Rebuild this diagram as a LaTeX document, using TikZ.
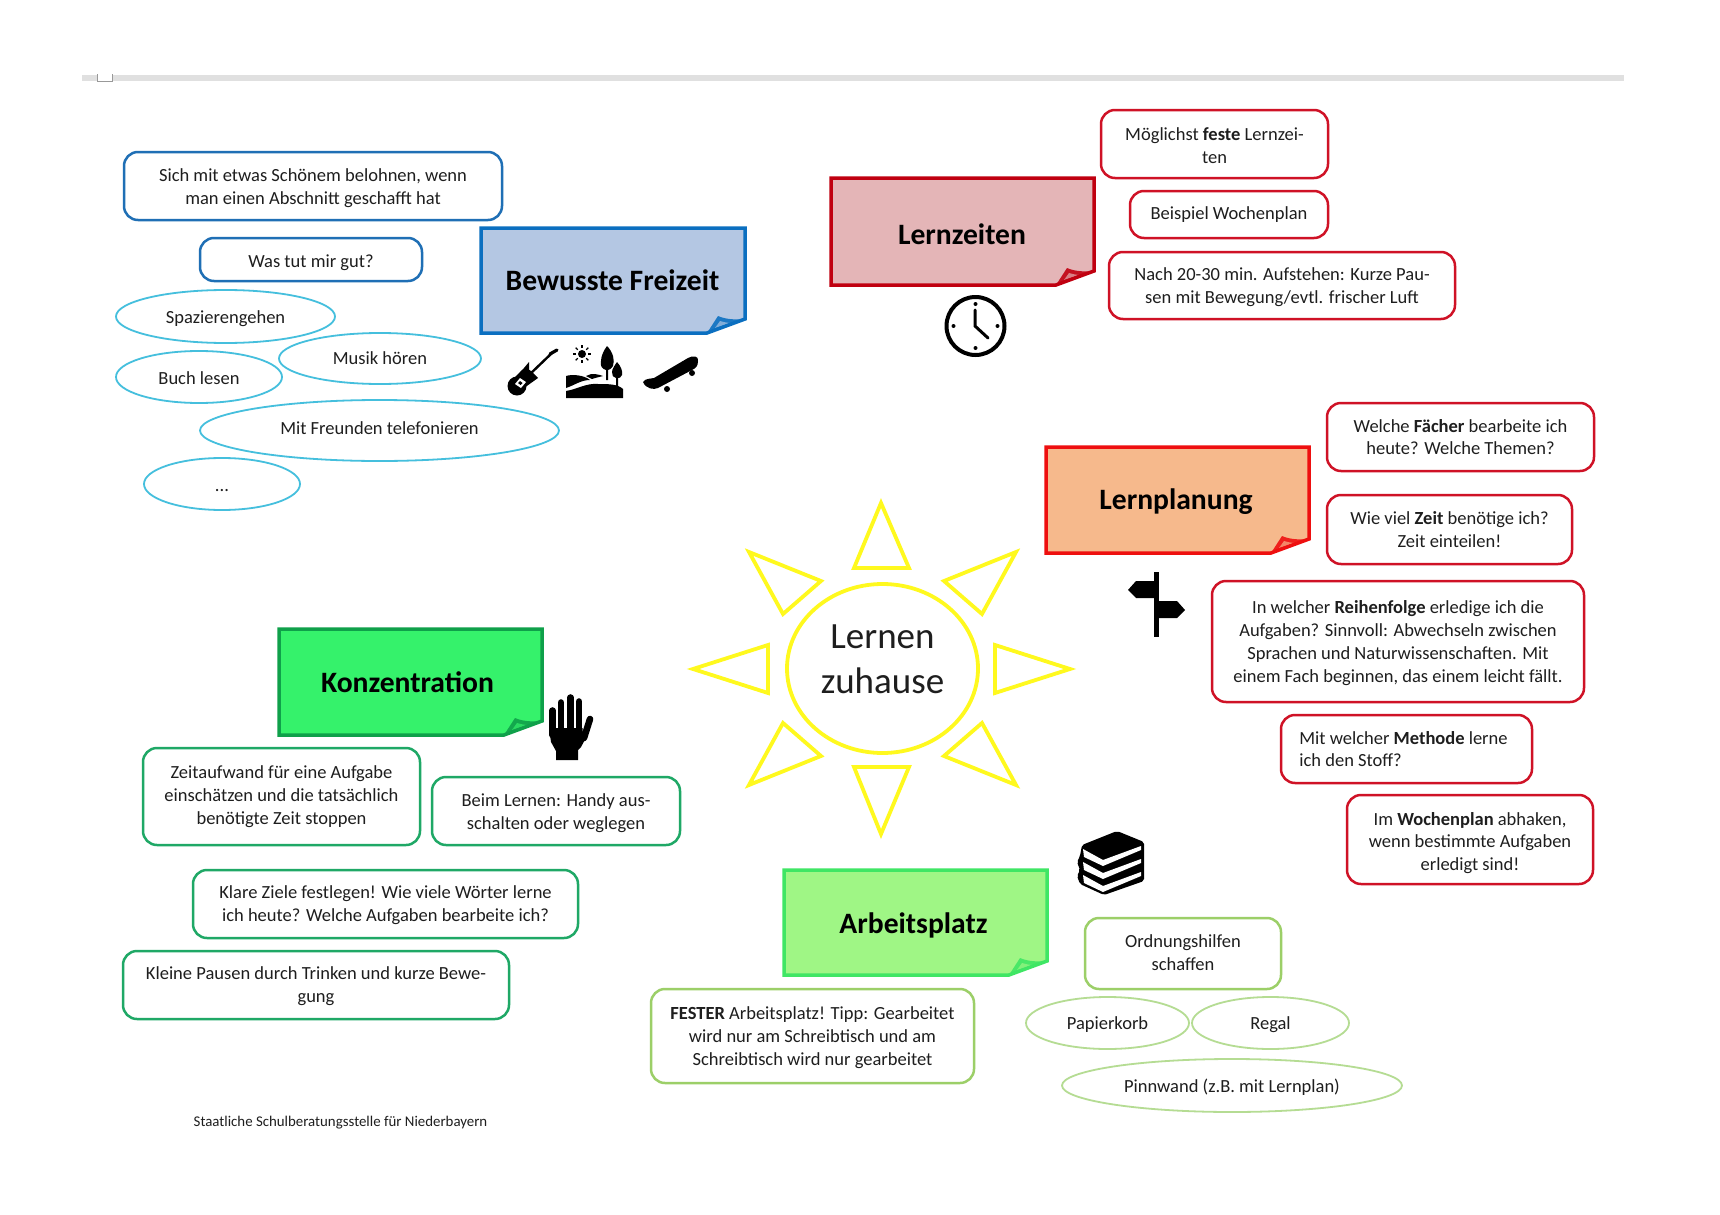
\documentclass[tikz,border=0pt]{standalone}
\usepackage{fontspec}
\setmainfont{Carlito}
\usetikzlibrary{calc,shapes.geometric}
\definecolor{txt}{HTML}{1E1E1E}
\definecolor{blueline}{HTML}{1F6FB5}
\definecolor{bluefill}{HTML}{B4C7E3}
\definecolor{bluenote}{HTML}{0B6FC0}
\definecolor{cyanline}{HTML}{45BFDD}
\definecolor{rednote}{HTML}{C00010}
\definecolor{redfill}{HTML}{E4B5B7}
\definecolor{redline}{HTML}{CF1226}
\definecolor{orfill}{HTML}{F6B98C}
\definecolor{ornote}{HTML}{EE0F0F}
\definecolor{kgfill}{HTML}{35F26B}
\definecolor{kgnote}{HTML}{0FA04A}
\definecolor{kgline}{HTML}{1FA866}
\definecolor{agfill}{HTML}{9FF685}
\definecolor{agnote}{HTML}{3FE664}
\definecolor{agline}{HTML}{9CCF68}
\definecolor{agell}{HTML}{B5DC93}
\definecolor{sunc}{HTML}{FFF91E}
\definecolor{barc}{HTML}{E0E0E0}
\tikzset{
  x=0.5pt,y=-0.5pt,
  every node/.style={text=txt,align=center,inner sep=0pt,outer sep=0pt,font=\fontsize{9.25}{11.4}\selectfont},
  card/.style={draw,rounded corners=7pt,line width=1.25pt,fill=white},
  oval/.style={draw,ellipse,line width=0.9pt,fill=white},
  notehead/.style={font=\fontsize{14.8}{17}\selectfont\bfseries,text=black},
  suntri/.style={draw=sunc,line width=1.9pt,line join=miter},
  icon/.style={fill=black,draw=none},
  finger/.style={draw=black,line width=3.3pt,line cap=round},
}
% name, x1,y1,x2,y2, style, text offset, text
\newcommand{\bx}[8]{\node[#6,minimum width={(#4-#2)*0.5pt},minimum height={(#5-#3)*0.5pt}] (#1) at ({(#2+#4)/2},{(#3+#5)/2}) {};
  \node (#1-text) at ({(#2+#4)/2},{(#3+#5)/2+#7}) {#8};}
% name, x1,y1,x2,y2, line, fill, text cx, text cy  (text in \notetext)
\newcommand{\note}[9]{%
  \fill[#7] (#2,#3) -- (#4,#3) -- (#4,#5-14) -- (#4-38,#5) -- (#2,#5) -- cycle;
  \fill[#6!90!#7] (#4-38,#5) -- (#4-27,#5-17) .. controls (#4-20,#5-14) and (#4-12,#5-13) .. (#4,#5-14) -- cycle;
  \fill[#7!70!#6] (#4-30,#5-5) -- (#4-25,#5-12) .. controls (#4-21,#5-11) and (#4-18,#5-10) .. (#4-15,#5-10) -- cycle;
  \draw[#6,line width=1.75pt,line join=miter] (#2,#3) -- (#4,#3) -- (#4,#5-14) -- (#4-38,#5) -- (#2,#5) -- cycle;
  \nodenext{#1}{#8}{#9}}
\newcommand{\nodenext}[3]{\node[notehead] (#1) at (#2,#3) {\notetext};}
\begin{document}
\begin{tikzpicture}
\useasboundingbox (0,0) rectangle (1720,1215);
\fill[white] (0,0) rectangle (1720,1215);
% top bar
\fill[barc] (82,74.5) rectangle (1624,81);
\fill[white] (97,75) rectangle (112,80.5);
\draw[gray!80,line width=0.4pt] (97,74) -- (97,81) -- (112,81) -- (112,74);

% Bewusste Freizeit
\def\notetext{Bewusste Freizeit}
\note{freizeit}{481}{228}{745}{333}{bluenote}{bluefill}{612.5}{280}
\bx{b1}{124}{152}{502}{220}{card,draw=blueline}{2.2}{Sich mit etwas Schönem belohnen, wenn\\man einen Abschnitt geschafft hat}
\bx{b2}{200}{238}{422}{281}{card,draw=blueline}{3.3}{Was tut mir gut?}
\bx{c1}{116}{290}{335}{343}{oval,draw=cyanline}{2.2}{Spazierengehen}
\bx{c3}{116}{351}{282}{403}{oval,draw=cyanline}{1}{Buch lesen}
\bx{c2}{279}{333}{481}{384}{oval,draw=cyanline}{0}{Musik hören}
\bx{c4}{200}{400}{559}{461}{oval,draw=cyanline}{-2.2}{Mit Freunden telefonieren}
\bx{c5}{144}{458}{300}{510}{oval,draw=cyanline}{6.6}{...}

% guitar
\fill[icon] (517,386) circle (9.5);
\fill[icon] (526,376) circle (7);
\fill[icon] (524,368) -- (529,362) -- (529,372) -- (533,373) -- (538,378) -- (531,383) -- (524,388) -- (514,378) -- cycle;
\draw[black,line width=1.2pt] (528,376) -- (553,352);
\draw[black,line width=1.6pt,line cap=round] (550,354) -- (557,350);
\fill[white] (520,378) -- (526,382) -- (521,388) -- (515,384) -- cycle;
\fill[black] (520,381) -- (522.5,383) -- (520.5,385) -- (518,383) -- cycle;
% landscape
\fill[icon] (566,376) .. controls (572,374) and (584,375) .. (590,380) .. controls (581,380) and (575,385) .. (566,388) -- cycle;
\fill[icon] (586,376) .. controls (592,372) and (600,375) .. (603,376) .. controls (599,377) and (595,378) .. (592,379) -- cycle;
\fill[icon] (566,391) .. controls (578,389) and (586,383) .. (598,384) .. controls (608,384) and (618,384) .. (623,389) -- (623,398) -- (566,398) -- cycle;
\fill[icon] (607,346) .. controls (613,352) and (615,360) .. (613,366) .. controls (611,369) and (609,370) .. (608,370) -- (608,380) -- (606,380) -- (606,370) .. controls (602,369) and (600,366) .. (601,361) .. controls (601,356) and (604,350) .. (607,346) -- cycle;
\fill[icon] (617,362) .. controls (621,366) and (623,372) .. (622,375) .. controls (621,378) and (619,378) .. (618,378) -- (618,386) -- (616,386) -- (616,378) .. controls (613,378) and (612,375) .. (612,372) .. controls (612,369) and (615,365) .. (617,362) -- cycle;
\fill[icon] (582,354) circle (4);
\foreach \a in {0,45,...,315}{\draw[black,line width=0.6pt] ($(582,354)+(\a:6)$) -- ($(582,354)+(\a:9)$);}
% skateboard
\fill[icon] (643,382) .. controls (646,378) and (650,379) .. (654,378) -- (688,358) .. controls (693,355) and (699,356) .. (698,361) .. controls (698,366) and (696,368) .. (692,370) -- (658,388) .. controls (654,390) and (646,389) .. (643,382) -- cycle;
\fill[icon] (667,389) circle (3);
\fill[icon] (692,373) circle (3);

% Lernzeiten
\def\notetext{Lernzeiten}
\note{lernzeiten}{831}{178}{1094}{285}{rednote}{redfill}{962}{234}
\bx{z1}{1101}{110}{1328}{178}{card,draw=redline}{1.5}{Möglichst \textbf{feste} Lernzei-\\ten}
\bx{z2}{1130}{191}{1328}{238}{card,draw=redline}{0}{Beispiel Wochenplan}
\bx{z3}{1109}{252}{1455}{319}{card,draw=redline}{1.5}{Nach 20-30 min. Aufstehen: Kurze Pau-\\sen mit Bewegung/evtl. frischer Luft}
% clock
\draw[black,line width=2pt,fill=white] (975.5,326) circle (29);
\draw[black,line width=1.5pt,line cap=round] (975,310) -- (975,326) -- (988,338);
\foreach \a in {0,90,180,270}{\fill[black] ($(975.5,326)+(\a:22)$) circle (2);}

% Lernplanung
\def\notetext{Lernplanung}
\note{lernplanung}{1046}{447}{1309}{553}{ornote}{orfill}{1176}{502}
\bx{p1}{1327}{403}{1594}{471}{card,draw=redline}{0}{Welche \textbf{Fächer} bearbeite ich\\heute? Welche Themen?}
\bx{p2}{1327}{495}{1572}{564}{card,draw=redline}{0}{Wie viel \textbf{Zeit} benötige ich?\\Zeit einteilen!}
\bx{p3}{1212}{581}{1584}{702}{card,draw=redline}{1.5}{In welcher \textbf{Reihenfolge} erledige ich die\\Aufgaben? Sinnvoll: Abwechseln zwischen\\Sprachen und Naturwissenschaften. Mit\\einem Fach beginnen, das einem leicht fällt.}
\bx{p4}{1281}{715}{1532}{783}{card,draw=redline}{2}{\begin{tabular}{@{}l@{}}Mit welcher \textbf{Methode} lerne\\ich den Stoff?\end{tabular}\hspace{3pt}}
\bx{p5}{1347}{795}{1593}{884}{card,draw=redline}{3.5}{Im \textbf{Wochenplan} abhaken,\\wenn bestimmte Aufgaben\\erledigt sind!}
% signpost
\fill[icon] (1154,572) rectangle (1159,637);
\fill[icon] (1154,581) -- (1136,581) -- (1128,590) -- (1136,598) -- (1154,598) -- cycle;
\fill[icon] (1159,601) -- (1177,601) -- (1185,610) -- (1177,618) -- (1159,618) -- cycle;

% Sun
\node[draw=sunc,line width=1.9pt,ellipse,fill=white,minimum width=95.5pt,minimum height=84.5pt] (sun) at (882.5,668.5) {};
\node[font=\fontsize{18.5}{22.4}\selectfont,text=txt] (suntext) at (882.5,659) {Lernen\\zuhause};
\draw[suntri] (881,503) -- (854,568) -- (909,568) -- cycle;
\draw[suntri] (1016,552) -- (944,581) -- (982,614) -- cycle;
\draw[suntri] (1070,669) -- (995,645) -- (995,693) -- cycle;
\draw[suntri] (1016,785) -- (944,756) -- (982,723) -- cycle;
\draw[suntri] (881,834) -- (854,767) -- (909,767) -- cycle;
\draw[suntri] (749,785) -- (821,756) -- (783,723) -- cycle;
\draw[suntri] (693,669) -- (768,645) -- (768,693) -- cycle;
\draw[suntri] (749,552) -- (821,581) -- (783,614) -- cycle;

% Konzentration
\def\notetext{Konzentration}
\note{konz}{279}{629}{542}{735}{kgnote}{kgfill}{407.5}{682}
\bx{k1}{143}{748}{420}{845}{card,draw=kgline}{0}{Zeitaufwand für eine Aufgabe\\einschätzen und die tatsächlich\\benötigte Zeit stoppen}
\bx{k2}{432}{777}{680}{845}{card,draw=kgline}{2.5}{Beim Lernen: Handy aus-\\schalten oder weglegen}
\bx{k3}{193}{870}{578}{938}{card,draw=kgline}{1.5}{Klare Ziele festlegen! Wie viele Wörter lerne\\ich heute? Welche Aufgaben bearbeite ich?}
\bx{k4}{123}{951}{509}{1019}{card,draw=kgline}{1}{Kleine Pausen durch Trinken und kurze Bewe-\\gung}
% hand
\draw[finger] (552.5,710.5) -- (552.5,735);
\draw[finger] (561,702.5) -- (561,735);
\draw[finger] (570.5,697.5) -- (570.5,735);
\draw[finger] (579,701.5) -- (579,735);
\draw[finger] (590,719) -- (584,738);
\fill[icon] (549,728) -- (582.5,728) -- (583,735) -- (587,736) -- (581,747) -- (578,750) -- (578,760) -- (556,760) -- (556,751) -- (551,742) -- cycle;
\node[font=\fontsize{7.43}{9}\selectfont] (foot) at (340.5,1123) {Staatliche Schulberatungsstelle für Niederbayern};

% Arbeitsplatz
\def\notetext{Arbeitsplatz}
\note{arbeit}{784}{870}{1047}{975}{agnote}{agfill}{913.5}{925}
\bx{a1}{651}{989}{974}{1083}{card,draw=agline}{1.5}{\textbf{FESTER} Arbeitsplatz! Tipp: Gearbeitet\\wird nur am Schreibtisch und am\\Schreibtisch wird nur gearbeitet}
\bx{a2}{1085}{918}{1281}{989}{card,draw=agline}{-1}{Ordnungshilfen\\schaffen}
\bx{a3}{1026}{997}{1189}{1049}{oval,draw=agell}{2}{Papierkorb}
\bx{a4}{1192}{997}{1349}{1049}{oval,draw=agell}{2}{Regal}
\bx{a5}{1062}{1059}{1402}{1112}{oval,draw=agell}{2}{Pinnwand (z.B. mit Lernplan)}
% books
\fill[icon,rounded corners=1pt] (1117,831) -- (1144,842) -- (1144,881) -- (1104,895) -- (1080,884) -- (1077,876) -- (1080,870) -- (1077,862) -- (1080,856) -- (1082,845) -- cycle;
\foreach \s in {0,13,26}{
  \fill[white] (1083,{849+\s}) -- (1103,{860+\s}) -- (1141,{846+\s}) -- (1141,{850+\s}) -- (1103,{866+\s}) -- (1084,{857+\s}) -- cycle;
}
\end{tikzpicture}
\end{document}
